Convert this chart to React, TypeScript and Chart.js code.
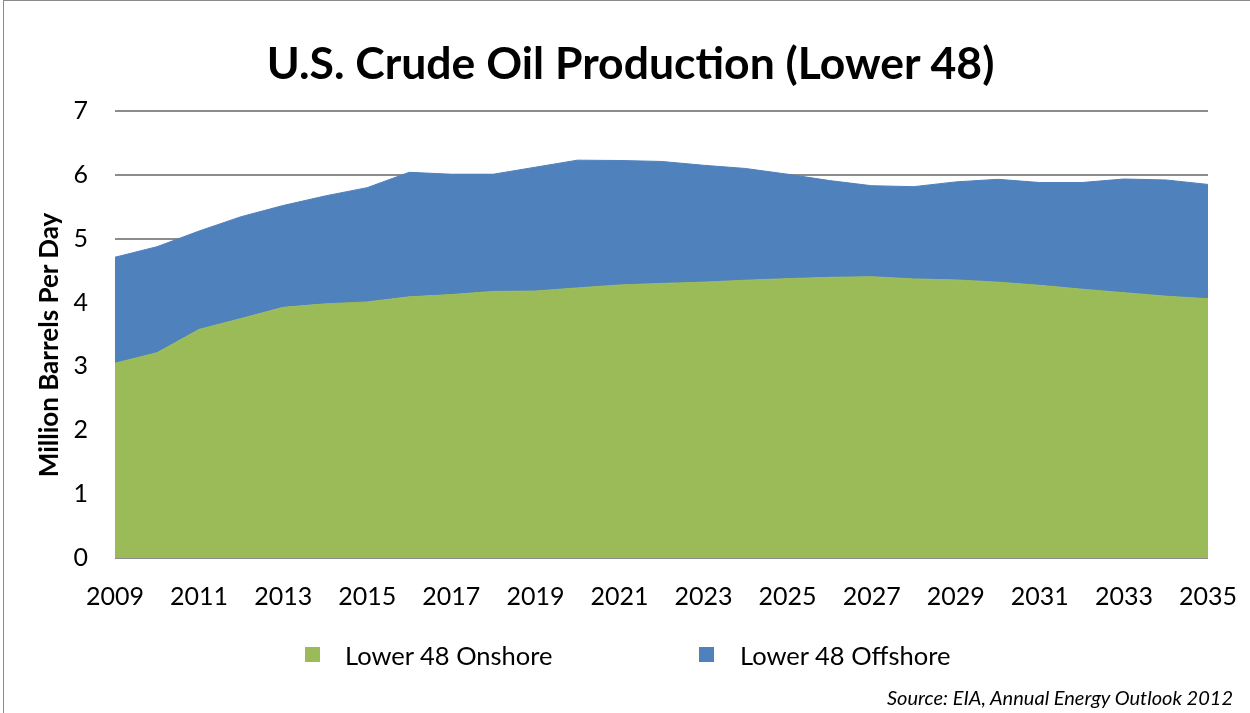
import React, { useEffect, useRef } from "react";
import { Chart, registerables } from "chart.js";

Chart.register(...registerables);

const years = [
  "2009", "2010", "2011", "2012", "2013", "2014", "2015", "2016", "2017", "2018",
  "2019", "2020", "2021", "2022", "2023", "2024", "2025", "2026", "2027", "2028",
  "2029", "2030", "2031", "2032", "2033", "2034", "2035",
];

const onshore = [
  3.05, 3.215, 3.58, 3.75, 3.925, 3.98, 4.01, 4.09, 4.125, 4.175,
  4.18, 4.23, 4.275, 4.3, 4.32, 4.35, 4.375, 4.395, 4.405, 4.37,
  4.355, 4.32, 4.27, 4.21, 4.155, 4.1, 4.06,
];

const offshore = [
  1.66, 1.66, 1.54, 1.595, 1.595, 1.69, 1.79, 1.95, 1.885, 1.835,
  1.94, 2.0, 1.95, 1.91, 1.83, 1.75, 1.635, 1.515, 1.425, 1.445,
  1.535, 1.61, 1.61, 1.67, 1.78, 1.82, 1.79,
];

const yTickValues = [0, 1, 2, 3, 4, 5, 6, 7];
const seriesNames = ["Lower 48 Onshore", "Lower 48 Offshore"];
const seriesColors = ["#9BBB59", "#4F81BD"];
const chartTitle = "U.S. Crude Oil Production (Lower 48)";
const yAxisTitle = "Million Barrels Per Day";
const sourceText = "Source: EIA, Annual Energy Outlook 2012";

const FONT = "Lato, 'Open Sans', sans-serif";

export default function App() {
  const ref = useRef<HTMLCanvasElement>(null);

  useEffect(() => {
    const chart = new Chart(ref.current!, {
      type: "line",
      data: {
        labels: years,
        datasets: [
          {
            label: seriesNames[0],
            data: onshore,
            backgroundColor: seriesColors[0],
            borderColor: seriesColors[0],
            borderWidth: 1,
            pointRadius: 0,
            fill: "origin",
            tension: 0,
          },
          {
            label: seriesNames[1],
            data: offshore,
            backgroundColor: seriesColors[1],
            borderColor: seriesColors[1],
            borderWidth: 1,
            pointRadius: 0,
            fill: "-1",
            tension: 0,
          },
        ],
      },
      options: {
        responsive: false,
        maintainAspectRatio: false,
        devicePixelRatio: 1,
        animation: false,
        layout: { padding: { left: 0, top: 111, right: 42, bottom: 95 } },
        plugins: {
          legend: { display: false },
          title: { display: false },
          tooltip: { enabled: false },
        },
        scales: {
          x: {
            offset: false,
            grid: { display: false, drawTicks: false },
            border: { display: false },
            ticks: {
              autoSkip: false,
              maxRotation: 0,
              minRotation: 0,
              padding: 24,
              color: "#000",
              font: { family: FONT, size: 25 },
              callback: (_v: any, i: number) => (i % 2 === 0 ? years[i] : ""),
            },
            afterFit: (s: any) => {
              s.height = 60;
              s.paddingLeft = 0;
              s.paddingRight = 0;
            },
          },
          y: {
            stacked: true,
            min: yTickValues[0],
            max: yTickValues[yTickValues.length - 1],
            grid: { color: "#8c8c8c", lineWidth: 2, drawTicks: false },
            border: { display: false },
            ticks: {
              stepSize: 1,
              padding: 27,
              color: "#000",
              font: { family: FONT, size: 25 },
            },
            afterFit: (s: any) => {
              s.width = 115;
            },
          },
        },
      },
    });
    return () => chart.destroy();
  }, []);

  return (
    <div
      style={{
        position: "fixed",
        left: 0,
        top: 0,
        width: 1250,
        height: 713,
        overflow: "hidden",
        background: "#fff",
        fontFamily: FONT,
        color: "#000",
      }}
    >
      <div
        style={{
          position: "absolute",
          left: 3,
          top: 0,
          width: 1400,
          height: 900,
          borderLeft: "1.5px solid #8a8a8a",
          borderTop: "1.5px solid #8a8a8a",
        }}
      />
      <canvas
        ref={ref}
        width={1250}
        height={713}
        style={{ position: "absolute", left: 0, top: 0, display: "block" }}
      />
      <div
        style={{
          position: "absolute",
          left: 0,
          top: 30,
          width: 1261,
          height: 64,
          lineHeight: "64px",
          textAlign: "center",
          fontWeight: 700,
          fontSize: 44.5,
          whiteSpace: "nowrap",
        }}
      >
        {chartTitle}
      </div>
      <div
        style={{
          position: "absolute",
          left: 48 - 160,
          top: 345 - 16,
          width: 320,
          height: 32,
          lineHeight: "32px",
          textAlign: "center",
          fontWeight: 700,
          fontSize: 26,
          whiteSpace: "nowrap",
          transform: "rotate(-90deg)",
        }}
      >
        {yAxisTitle}
      </div>
      {[0, 1].map((i) => (
        <React.Fragment key={i}>
          <div
            style={{
              position: "absolute",
              left: i === 0 ? 305 : 699,
              top: 647,
              width: 15,
              height: 15,
              background: seriesColors[i],
            }}
          />
          <div
            style={{
              position: "absolute",
              left: i === 0 ? 345 : 740,
              top: 640,
              height: 30,
              lineHeight: "30px",
              fontSize: 25.5,
              whiteSpace: "nowrap",
            }}
          >
            {seriesNames[i]}
          </div>
        </React.Fragment>
      ))}
      <div
        style={{
          position: "absolute",
          right: 17,
          top: 684,
          height: 26,
          lineHeight: "26px",
          fontSize: 20,
          fontStyle: "italic",
          whiteSpace: "nowrap",
        }}
      >
        {sourceText}
      </div>
    </div>
  );
}
